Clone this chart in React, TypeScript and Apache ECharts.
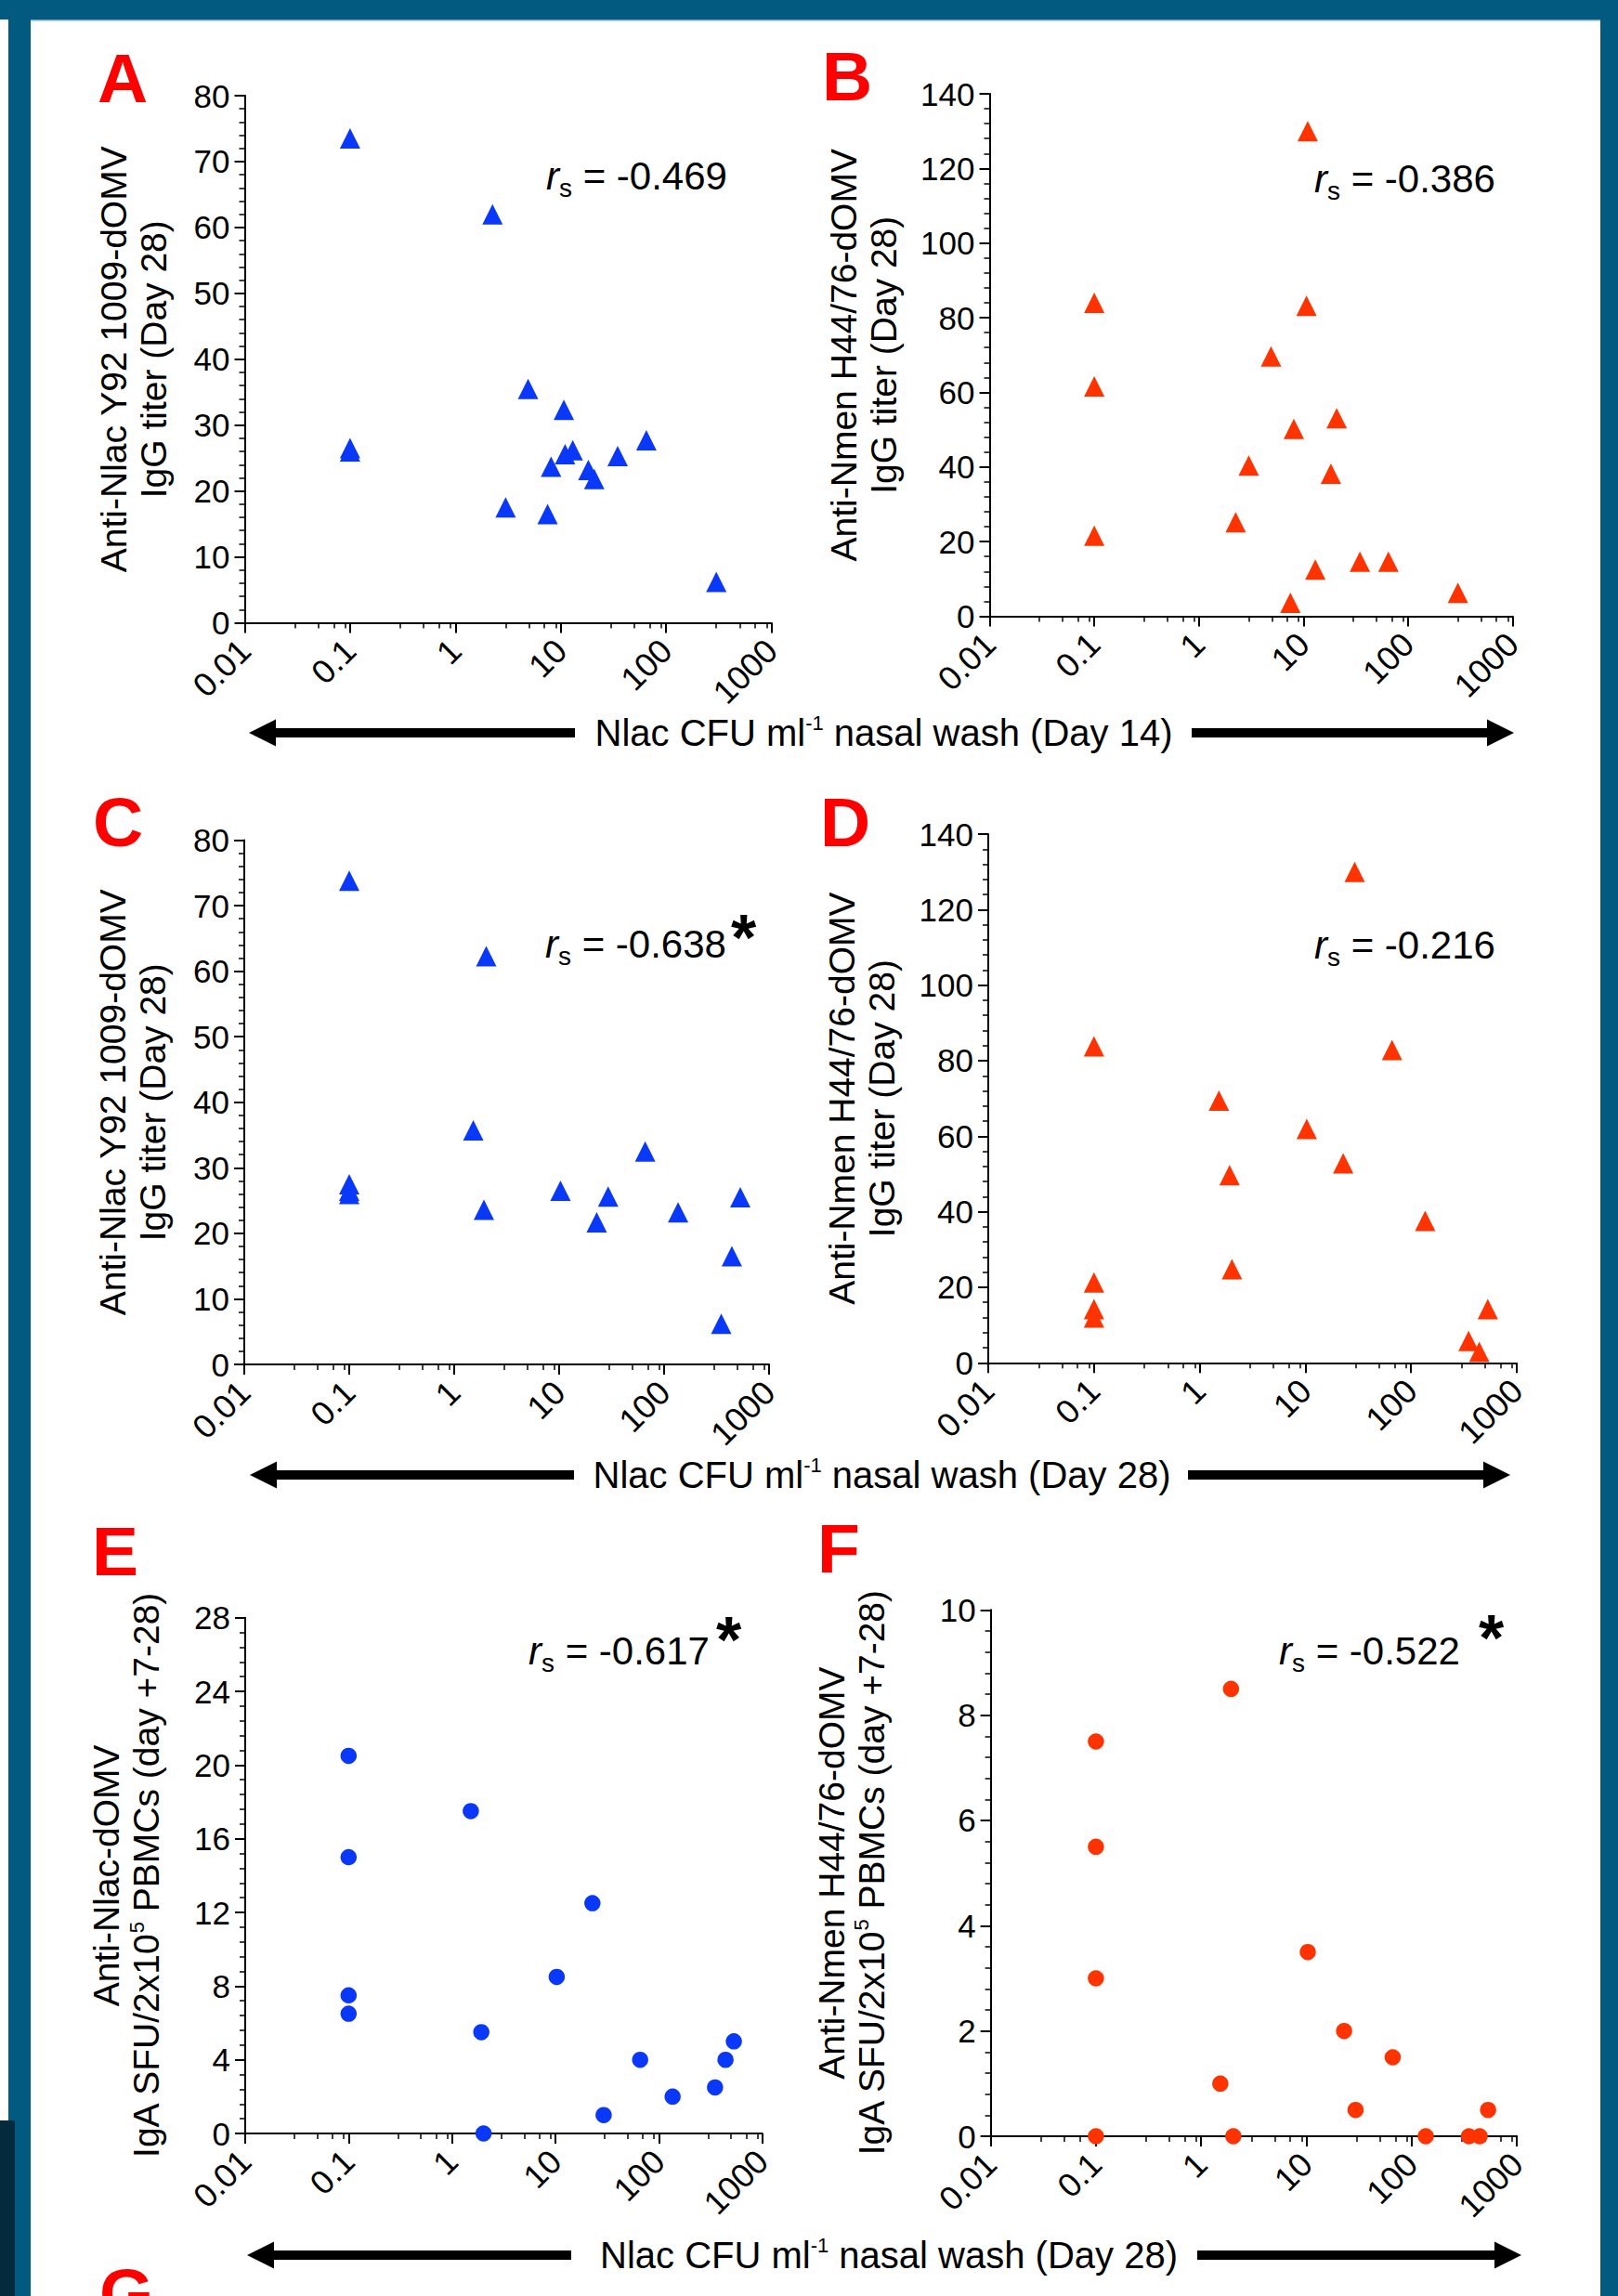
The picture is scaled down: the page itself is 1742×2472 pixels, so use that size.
import React, { useEffect, useRef } from "react";
import * as echarts from "echarts";

const FONT = "'Liberation Sans', Arial, Helvetica, sans-serif";
const BLUE = "#0a38f8";
const RED = "#ff3300";
const BAND = "#035a80";

// ---- axis tick labels ----
const X_TICK_LABELS = ["0.01", "0.1", "1", "10", "100", "1000"];
const X_MINOR_TICKS = [0.03, 0.05, 0.07, 0.09, 0.3, 0.5, 0.7, 0.9, 3, 5, 7, 9, 30, 50, 70, 90, 300, 500, 700, 900];

// ---- data: Nlac CFU/ml nasal wash ----
const DAY14_CFU = [0.1, 0.1, 0.1, 2.25, 3.0, 4.9, 7.5, 8.1, 10.7, 11.0, 13.0, 18.3, 20.8, 34.7, 65, 300];
const A_IGG_NLAC = [73.5, 26.5, 26, 62, 17.5, 35.5, 16.5, 23.7, 32.3, 25.6, 26.2, 23.2, 21.8, 25.3, 27.7, 6.2];
const B_IGG_NMEN = [84, 61.6, 21.6, 25.2, 40.4, 69.6, 3.6, 50.2, 83.2, 130, 12.5, 38.2, 53.1, 14.6, 14.6, 6.3];

const DAY28_CFU = [0.1, 0.1, 0.1, 0.1, 1.52, 1.92, 2.02, 10.3, 22.8, 29.3, 66, 136, 350, 442, 532];
const C_IGG_NLAC = [73.8, 27.5, 26.5, 26, 35.7, 23.6, 62.3, 26.5, 21.7, 25.6, 32.5, 23.2, 6.2, 16.5, 25.5];
const D_IGG_NMEN = [83.8, 21.3, 14.2, 12.0, 69.4, 49.7, 24.8, 61.9, 52.8, 130, 82.8, 37.6, 5.8, 2.9, 14.2];
const E_IGA_NLAC = [20.5, 15, 7.5, 6.5, 17.5, 5.5, 0, 8.5, 12.5, 1.0, 4.0, 2.0, 2.5, 4.0, 5.0];
const F_IGA_NMEN = [7.5, 5.5, 3.0, 0, 1.0, 8.5, 0, 3.5, 2.0, 0.5, 1.5, 0, 0, 0, 0.5];

const RS_VALUES = ["-0.469", "-0.386", "-0.638", "-0.216", "-0.617", "-0.522"];
const PANEL_LETTERS = ["A", "B", "C", "D", "E", "F"];

const Y_NAMES = [
  "Anti-Nlac Y92 1009-dOMV\nIgG titer (Day 28)",
  "Anti-Nmen H44/76-dOMV\nIgG titer (Day 28)",
  "Anti-Nlac Y92 1009-dOMV\nIgG titer (Day 28)",
  "Anti-Nmen H44/76-dOMV\nIgG titer (Day 28)",
  "Anti-Nlac-dOMV\n{n|IgA SFU/2x10}{sup|5}{n| PBMCs (day +7-28)}",
  "Anti-Nmen H44/76-dOMV\n{n|IgA SFU/2x10}{sup|5}{n| PBMCs (day +7-28)}",
];

const ARROW_LABELS = [
  "Nlac CFU ml|-1| nasal wash (Day 14)",
  "Nlac CFU ml|-1| nasal wash (Day 28)",
  "Nlac CFU ml|-1| nasal wash (Day 28)",
];

// ---- layout (positions/styles only) ----
const PANELS = [
  { grid: { left: 263.5, top: 103, width: 567, height: 567.5 }, yMax: 80, yInt: 10, gap: 77, xs: DAY14_CFU, ys: A_IGG_NLAC, color: BLUE, symbol: "triangle", size: 22,
    letter: { x: 105, base: 110 }, rs: { x: 588, base: 204 }, star: null },
  { grid: { left: 1065.5, top: 101, width: 563, height: 562.5 }, yMax: 140, yInt: 20, gap: 93, xs: DAY14_CFU, ys: B_IGG_NMEN, color: RED, symbol: "triangle", size: 22,
    letter: { x: 885, base: 108 }, rs: { x: 1415, base: 207 }, star: null },
  { grid: { left: 263, top: 904.5, width: 565, height: 564.5 }, yMax: 80, yInt: 10, gap: 77, xs: DAY28_CFU, ys: C_IGG_NLAC, color: BLUE, symbol: "triangle", size: 22,
    letter: { x: 100, base: 911 }, rs: { x: 587, base: 1031 }, star: { x: 800.5, y: 995.5 } },
  { grid: { left: 1064, top: 898, width: 569, height: 569.3 }, yMax: 140, yInt: 20, gap: 93, xs: DAY28_CFU, ys: D_IGG_NMEN, color: RED, symbol: "triangle", size: 22,
    letter: { x: 883, base: 911 }, rs: { x: 1415, base: 1032 }, star: null },
  { grid: { left: 264, top: 1741.7, width: 556.6, height: 555.3 }, yMax: 28, yInt: 4, gap: 85, xs: DAY28_CFU, ys: E_IGA_NLAC, color: BLUE, symbol: "circle", size: 17.5,
    letter: { x: 99, base: 1696 }, rs: { x: 569, base: 1792 }, star: { x: 784.5, y: 1751.5 } },
  { grid: { left: 1066.6, top: 1733.3, width: 566.6, height: 566.7 }, yMax: 10, yInt: 2, gap: 107, xs: DAY28_CFU, ys: F_IGA_NMEN, color: RED, symbol: "circle", size: 17.5,
    letter: { x: 880, base: 1693 }, rs: { x: 1377, base: 1792 }, star: { x: 1605.5, y: 1750 } },
];

const ARROW_ROWS = [
  { y: 789, lTip: 268, lEnd: 619, rStart: 1283, rTip: 1630, textX: 951.5 },
  { y: 1588, lTip: 269, lEnd: 618, rStart: 1279, rTip: 1626, textX: 949.5 },
  { y: 2428, lTip: 266, lEnd: 615, rStart: 1289, rTip: 1638, textX: 957 },
];

function buildOption() {
  const grid: any[] = [];
  const xAxis: any[] = [];
  const yAxis: any[] = [];
  const series: any[] = [];
  const elements: any[] = [];

  const black = { color: "#000", width: 2 };

  PANELS.forEach((p, i) => {
    grid.push({ ...p.grid, containLabel: false, outerBoundsMode: "none" });
    xAxis.push({
      type: "log",
      logBase: 10,
      gridIndex: i,
      min: 0.01,
      max: 1000,
      position: "bottom",
      axisLine: { show: true, onZero: false, lineStyle: black },
      axisTick: { show: true, length: 11, lineStyle: black },
      splitLine: { show: false },
      minorTick: { show: false },
      axisLabel: {
        rotate: 45,
        fontSize: 36,
        margin: 24,
        color: "#000",
        fontFamily: FONT,
        formatter: (v: number) => X_TICK_LABELS[Math.round(Math.log10(v)) + 2],
      },
    });
    xAxis.push({
      type: "log",
      logBase: 10,
      gridIndex: i,
      min: 0.01,
      max: 1000,
      position: "bottom",
      axisLine: { show: false, onZero: false },
      axisTick: { show: true, length: 6, customValues: X_MINOR_TICKS, lineStyle: { color: "#000", width: 1.5 } },
      axisLabel: { show: false },
      splitLine: { show: false },
    });
    yAxis.push({
      type: "value",
      gridIndex: i,
      min: 0,
      max: p.yMax,
      interval: p.yInt,
      axisLine: { show: true, onZero: false, lineStyle: black },
      axisTick: { show: true, length: 11, lineStyle: black },
      minorTick: { show: true, splitNumber: 5, length: 6, lineStyle: { color: "#000", width: 1.5 } },
      splitLine: { show: false },
      minorSplitLine: { show: false },
      axisLabel: { fontSize: 35, color: "#000", margin: 16, fontFamily: FONT },
      name: Y_NAMES[i],
      nameLocation: "middle",
      nameRotate: 90,
      nameGap: p.gap,
      nameTextStyle: {
        fontSize: 39,
        lineHeight: 43,
        color: "#000",
        fontFamily: FONT,
        rich: {
          n: { fontSize: 39, lineHeight: 43, color: "#000", fontFamily: FONT },
          sup: { fontSize: 22, lineHeight: 22, verticalAlign: "top", color: "#000", fontFamily: FONT },
        },
      },
    });
    series.push({
      type: "scatter",
      xAxisIndex: 2 * i,
      yAxisIndex: i,
      data: p.xs.map((x, j) => [x, p.ys[j]]),
      symbol: p.symbol,
      symbolSize: p.size,
      itemStyle: { color: p.color, opacity: 1 },
      clip: false,
      z: 5,
    });

    // panel letter
    elements.push({
      type: "text",
      x: p.letter.x,
      y: p.letter.base - 0.3465 * 75,
      style: { text: PANEL_LETTERS[i], fontSize: 75, fontWeight: "bold", fontFamily: FONT, fill: "#ff0000", align: "left", verticalAlign: "middle" },
    });
    // r_s annotation
    elements.push({
      type: "text",
      x: p.rs.x,
      y: p.rs.base - 41.6,
      style: {
        text: `{r|r}{s|s}{v| = ${RS_VALUES[i]}}`,
        align: "left",
        verticalAlign: "top",
        rich: {
          r: { fontSize: 42, fontStyle: "italic", lineHeight: 54, fontFamily: FONT, fill: "#000" },
          s: { fontSize: 28, lineHeight: 28, verticalAlign: "bottom", fontFamily: FONT, fill: "#000" },
          v: { fontSize: 42, lineHeight: 54, fontFamily: FONT, fill: "#000" },
        },
      },
    });
    if (p.star) {
      elements.push({
        type: "text",
        x: p.star.x,
        y: p.star.y + 14,
        style: { text: "*", fontSize: 70, fontWeight: "bold", fontFamily: FONT, fill: "#000", align: "center", verticalAlign: "middle" },
      });
    }
  });

  // arrows and shared x titles
  ARROW_ROWS.forEach((r, k) => {
    const head = 29;
    const half = 14.5;
    const th = 10;
    elements.push({ type: "rect", shape: { x: r.lTip + head - 1, y: r.y - th / 2, width: r.lEnd - r.lTip - head + 1, height: th }, style: { fill: "#000" } });
    elements.push({ type: "polygon", shape: { points: [[r.lTip, r.y], [r.lTip + head, r.y - half], [r.lTip + head, r.y + half]] }, style: { fill: "#000" } });
    elements.push({ type: "rect", shape: { x: r.rStart, y: r.y - th / 2, width: r.rTip - head - r.rStart + 1, height: th }, style: { fill: "#000" } });
    elements.push({ type: "polygon", shape: { points: [[r.rTip, r.y], [r.rTip - head, r.y - half], [r.rTip - head, r.y + half]] }, style: { fill: "#000" } });
    const parts = ARROW_LABELS[k].split("|");
    elements.push({
      type: "text",
      x: r.textX,
      y: r.y,
      style: {
        text: `{a|${parts[0]}}{b|${parts[1]}}{a|${parts[2]}}`,
        align: "center",
        verticalAlign: "middle",
        rich: {
          a: { fontSize: 40, lineHeight: 44, fontFamily: FONT, fill: "#000" },
          b: { fontSize: 22, lineHeight: 22, verticalAlign: "top", fontFamily: FONT, fill: "#000" },
        },
      },
    });
  });

  // partially visible next panel letter (cut off at the page bottom, as in the source)
  elements.push({
    type: "text",
    x: 107,
    y: 2495 - 0.3465 * 75,
    style: { text: "G", fontSize: 75, fontWeight: "bold", fontFamily: FONT, fill: "#ff0000", align: "left", verticalAlign: "middle" },
  });

  // page frame
  elements.push({ type: "rect", shape: { x: 33, y: 21, width: 1690, height: 1.5 }, style: { fill: "#7ea7bd" } });
  elements.push({ type: "rect", shape: { x: 0, y: 0, width: 1742, height: 21 }, style: { fill: BAND } });
  elements.push({ type: "rect", shape: { x: 9, y: 0, width: 24, height: 2472 }, style: { fill: BAND } });
  elements.push({ type: "rect", shape: { x: 1723, y: 0, width: 19, height: 2472 }, style: { fill: BAND } });
  elements.push({ type: "rect", shape: { x: 0, y: 2283, width: 16, height: 189 }, style: { fill: "#032b3d" } });

  return {
    animation: false,
    backgroundColor: "#ffffff",
    textStyle: { fontFamily: FONT },
    grid,
    xAxis,
    yAxis,
    series,
    graphic: { elements },
  };
}

export default function App() {
  const ref = useRef<HTMLDivElement>(null);
  useEffect(() => {
    document.body.style.margin = "0";
    if (!ref.current) return;
    const chart = echarts.init(ref.current, null, { renderer: "svg", width: 1742, height: 2472 });
    chart.setOption(buildOption() as any);
    return () => chart.dispose();
  }, []);
  return <div ref={ref} style={{ position: "absolute", left: 0, top: 0, width: 1742, height: 2472, background: "#fff" }} />;
}
